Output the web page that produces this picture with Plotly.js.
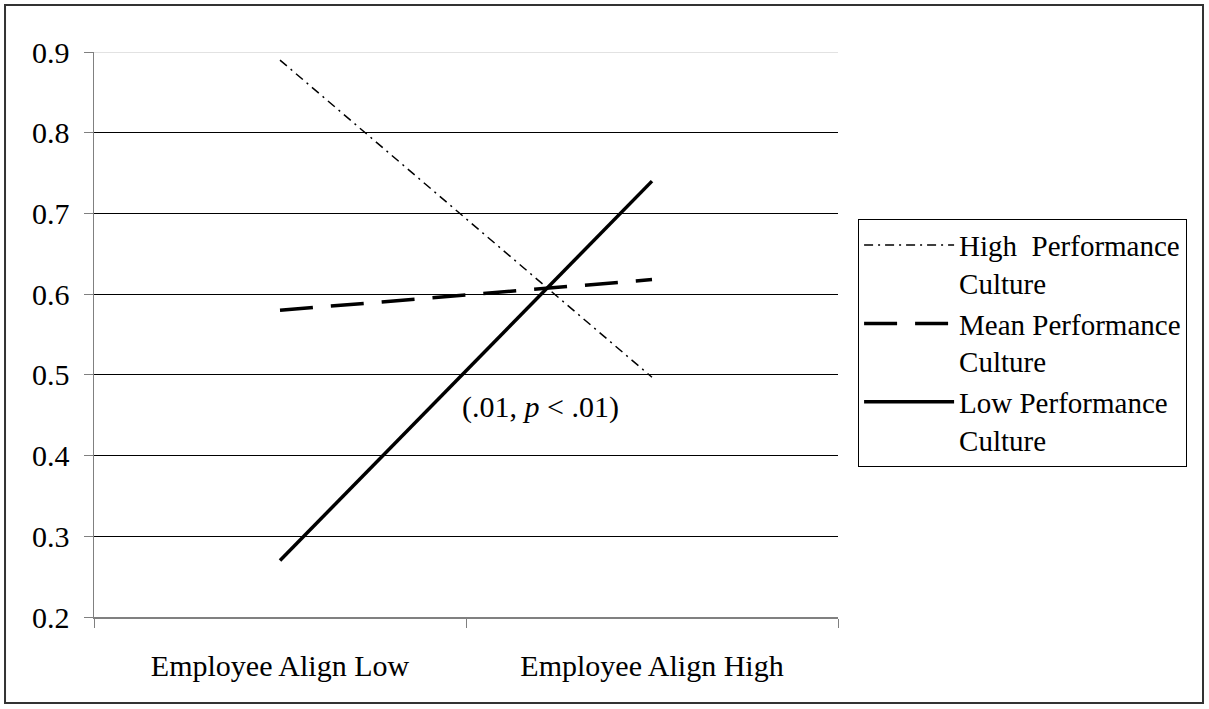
<!DOCTYPE html>
<html>
<head>
<meta charset="utf-8">
<script src="https://cdn.plot.ly/plotly-3.0.1.min.js"></script>
<style>html,body{margin:0;padding:0;background:#fff;}#chart{width:1209px;height:709px;}</style>
</head>
<body>
<div id="chart"></div>
<script>
const categories = ["Employee Align Low", "Employee Align High"];
const highCulture = [0.89, 0.497];
const meanCulture = [0.58, 0.618];
const lowCulture = [0.27, 0.74];
const seriesNames = ["High  Performance<br>Culture", "Mean Performance<br>Culture", "Low Performance<br>Culture"];
const yTicks = [0.2, 0.3, 0.4, 0.5, 0.6, 0.7, 0.8, 0.9];
const yTickText = ["0.2", "0.3", "0.4", "0.5", "0.6", "0.7", "0.8", "0.9"];
const noteText = "(.01, <i>p</i> < .01)";

const FONT = "Liberation Serif, Times New Roman, serif";

const traces = [
  {x: categories, y: highCulture, name: seriesNames[0], mode: "lines", type: "scatter",
   line: {color: "#000", width: 1.5, dash: "9px,5px,2px,5px"}},
  {x: categories, y: meanCulture, name: seriesNames[1], mode: "lines", type: "scatter",
   line: {color: "#000", width: 3.5, dash: "33px,18px"}},
  {x: categories, y: lowCulture, name: seriesNames[2], mode: "lines", type: "scatter",
   line: {color: "#000", width: 3.5}}
];

const layout = {
  width: 1209, height: 709,
  margin: {l: 94, r: 371, t: 52, b: 92},
  paper_bgcolor: "#fff", plot_bgcolor: "#fff",
  font: {family: FONT, size: 30, color: "#000"},
  showlegend: true,
  legend: {
    x: 1.027, y: 0.705, xanchor: "left", yanchor: "top",
    bordercolor: "#000", borderwidth: 1, bgcolor: "#fff",
    font: {family: FONT, size: 29, color: "#000"},
    valign: "top", itemwidth: 90, tracegroupgap: 0
  },
  xaxis: {
    type: "category", range: [-0.5, 1.5], fixedrange: true,
    showgrid: false, zeroline: false,
    showline: true, linecolor: "#808080", linewidth: 1.5,
    ticks: "outside", tickson: "boundaries", ticklen: 9, tickcolor: "#808080", tickwidth: 1,
    ticklabelstandoff: 21,
    tickfont: {family: FONT, size: 30, color: "#000"}
  },
  yaxis: {
    range: [0.2, 0.9], fixedrange: true,
    tickvals: yTicks, ticktext: yTickText,
    showgrid: true, gridcolor: "#000", gridwidth: 1,
    zeroline: false,
    showline: true, linecolor: "#808080", linewidth: 1.5,
    ticks: "outside", ticklen: 9, tickcolor: "#808080", tickwidth: 1,
    ticklabelstandoff: 8,
    tickfont: {family: FONT, size: 30, color: "#000"}
  },
  annotations: [
    {x: 0.7, y: 0.46, xref: "x", yref: "y", text: noteText, showarrow: false,
     font: {family: FONT, size: 30, color: "#000"}}
  ],
  shapes: [
    {type: "line", xref: "paper", yref: "y", x0: 0, x1: 1, y0: 0.9, y1: 0.9,
     line: {color: "#d9d9d9", width: 1.5}, layer: "above"},
    {type: "rect", xref: "paper", yref: "paper", x0: -0.1196, x1: 1.4906, y0: -0.1522, y1: 1.0832,
     line: {color: "#333", width: 2}, fillcolor: "rgba(0,0,0,0)"}
  ]
};

Plotly.newPlot("chart", traces, layout, {displayModeBar: false, staticPlot: true});
</script>
</body>
</html>
